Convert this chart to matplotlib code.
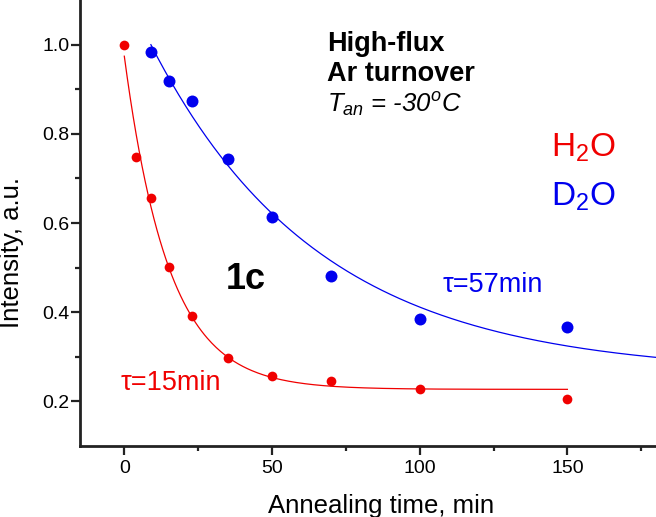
import numpy as np
import matplotlib
matplotlib.use("Agg")
import matplotlib.pyplot as plt

plt.rcParams['font.family'] = ['Liberation Sans', 'DejaVu Sans']
plt.rcParams['mathtext.fontset'] = 'custom'
plt.rcParams['mathtext.rm'] = 'Liberation Sans'
plt.rcParams['mathtext.it'] = 'Liberation Sans:italic'
plt.rcParams['mathtext.bf'] = 'Liberation Sans:bold'

# Data
h2o_time = [0, 4, 9, 15, 23, 35, 50, 70, 100, 150]
h2o_intensity = [1.0, 0.748, 0.655, 0.502, 0.392, 0.297, 0.257, 0.246, 0.227, 0.206]
d2o_time = [9, 15, 23, 35, 50, 70, 100, 150]
d2o_intensity = [0.983, 0.919, 0.873, 0.743, 0.613, 0.482, 0.384, 0.366]

# Exponential fit parameters: y0 + A*exp(-t/tau)
h2o_fit = dict(y0=0.227, A=0.747, tau=15, t0=0, t1=150)
d2o_fit = dict(y0=0.262, A=0.864, tau=57, t0=9, t1=185)

x_ticks = [0, 50, 100, 150]
y_ticks = [0.2, 0.4, 0.6, 0.8, 1.0]

RED = '#f00000'
BLUE = '#0000ee'

fig = plt.figure(figsize=(6.56, 5.17), dpi=100)
ax = fig.add_axes([80/656, 71/517, 1 - 80/656, 1 - 71/517])

for p, c in ((h2o_fit, RED), (d2o_fit, BLUE)):
    t = np.linspace(p['t0'], p['t1'], 300)
    ax.plot(t, p['y0'] + p['A'] * np.exp(-t / p['tau']), color=c, lw=0.9, zorder=2)

ax.plot(h2o_time, h2o_intensity, 'o', color=RED, ms=7.0, mec='none', zorder=3)
ax.plot(d2o_time, d2o_intensity, 'o', color=BLUE, ms=8.6, mec='none', zorder=3)

ax.set_xlim(-15, 180)
ax.set_ylim(0.1, 1.1)
ax.set_xticks(x_ticks)
ax.set_yticks(y_ticks)
ax.set_xticks([25, 75, 125, 175], minor=True)
ax.set_yticks([0.3, 0.5, 0.7, 0.9], minor=True)
ax.set_yticklabels(['%.1f' % v for v in y_ticks])

for s in ('top', 'right'):
    ax.spines[s].set_visible(False)
for s in ('left', 'bottom'):
    ax.spines[s].set_linewidth(2.0)
    ax.spines[s].set_color('#222222')
ax.tick_params(which='major', direction='out', length=6.5, width=1.6, color='#222222',
               labelsize=14)
ax.tick_params(which='minor', direction='out', length=3.5, width=1.6, color='#222222')
ax.tick_params(axis='y', which='major', pad=1)
ax.tick_params(axis='x', which='major', pad=3.5)

ax.set_xlabel('Annealing time, min', fontsize=18.5)
ax.set_ylabel('Intensity, a.u.', fontsize=18.5)
ax.xaxis.set_label_coords((381 - 80) / 576, -48 / 446)
ax.yaxis.set_label_coords(-56 / 576, 1 - 252 / 446)

ax.text(68.5, 0.985, 'High-flux', fontsize=19.5, fontweight='bold', ha='left', va='baseline')
ax.text(68.5, 0.9175, 'Ar turnover', fontsize=19.5, fontweight='bold', ha='left', va='baseline')
ax.text(68.5, 0.847, r'$T_{an}$ = -30$^o$C', fontsize=18.5, style='italic', ha='left', va='baseline')
ax.text(144.4, 0.749, r'H$_2$O', fontsize=24, color=RED, ha='left', va='baseline')
ax.text(144.4, 0.640, r'D$_2$O', fontsize=24, color=BLUE, ha='left', va='baseline')
ax.text(107.7, 0.446, 'τ=57min', fontsize=19.5, color=BLUE, ha='left', va='baseline')
ax.text(-1.4, 0.226, 'τ=15min', fontsize=19.5, color=RED, ha='left', va='baseline')
ax.text(41, 0.451, '1c', fontsize=26, fontweight='bold', ha='center', va='baseline')

fig.savefig('out.png', dpi=100)
